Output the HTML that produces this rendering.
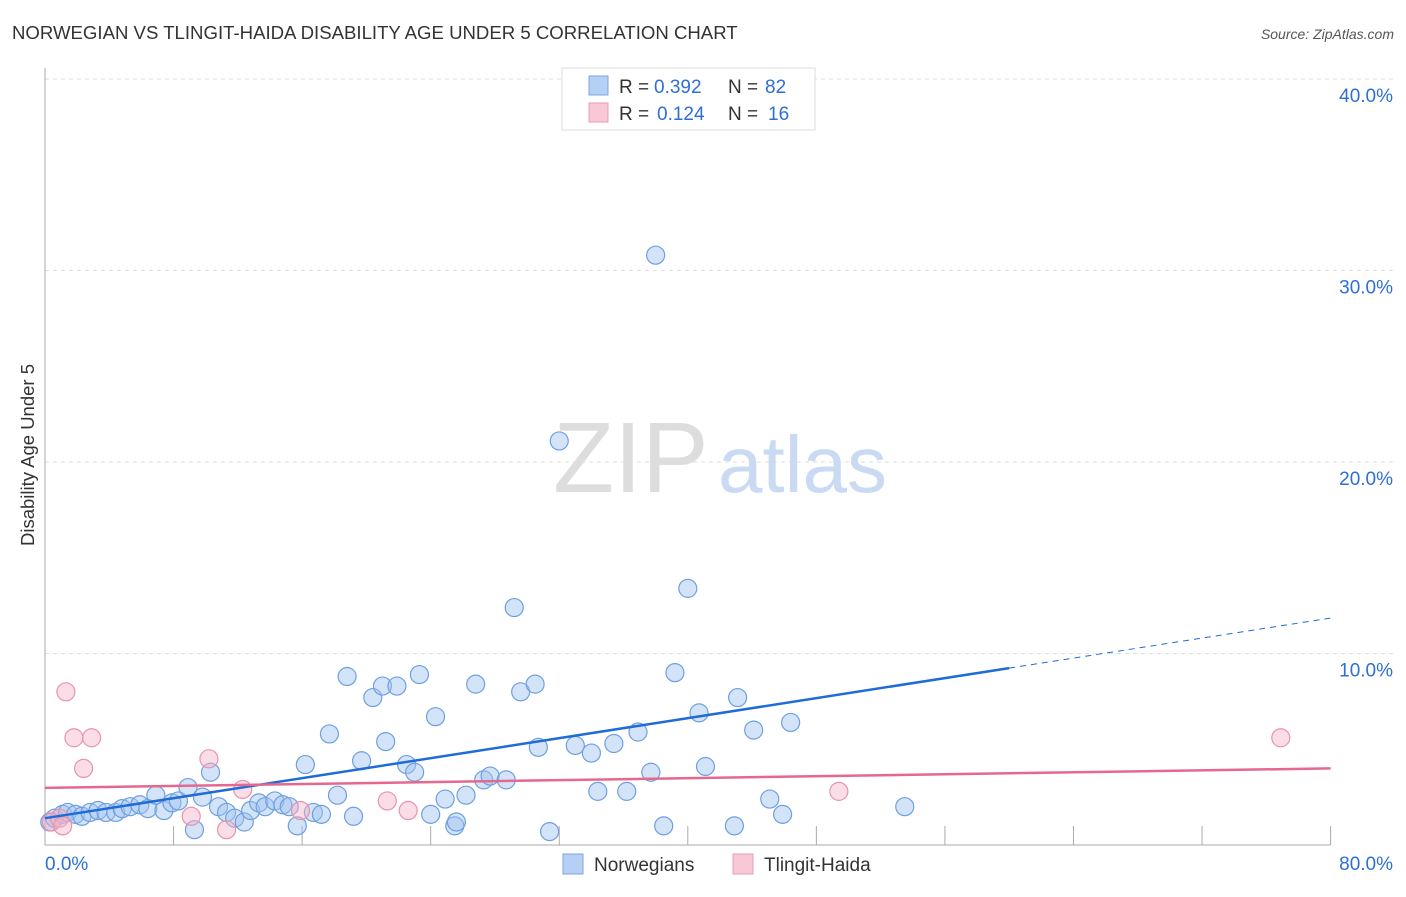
<!DOCTYPE html>
<html><head><meta charset="utf-8"><style>
body{margin:0;background:#fff;font-family:"Liberation Sans",sans-serif}
svg text{font-family:"Liberation Sans",sans-serif}
</style></head><body>
<svg id="chart" width="1406" height="892" viewBox="0 0 1406 892">
<text x="12" y="39" font-size="18.6" fill="#333">NORWEGIAN VS TLINGIT-HAIDA DISABILITY AGE UNDER 5 CORRELATION CHART</text>
<text x="1394" y="39" font-size="14" fill="#555" font-style="italic" text-anchor="end">Source: ZipAtlas.com</text>
<text x="34" y="455" font-size="18.5" fill="#333" transform="rotate(-90 34 455)" text-anchor="middle">Disability Age Under 5</text>
<g id="grid"></g>
<text x="553" y="492" font-size="100" fill="#ddd" font-family="Liberation Serif">ZIP</text>
<text x="718" y="492" font-size="80" fill="#c9daf2">atlas</text>
<g id="marks"></g>
<g>
<rect x="562" y="68" width="253" height="62" fill="#fff" stroke="#ddd"/>
<rect x="589" y="76" width="19" height="19" fill="#b6d0f5" stroke="#7aa5e3"/>
<rect x="589" y="103" width="19" height="19" fill="#f9c8d6" stroke="#ec9ab3"/>
<text x="619" y="93" font-size="19" fill="#333">R =</text>
<text x="654" y="93" font-size="19" fill="#2e6fd6">0.392</text>
<text x="728" y="93" font-size="19" fill="#333">N =</text>
<text x="765" y="93" font-size="19" fill="#2e6fd6">82</text>
<text x="619" y="120" font-size="19" fill="#333">R =</text>
<text x="657" y="120" font-size="19" fill="#2e6fd6">0.124</text>
<text x="728" y="120" font-size="19" fill="#333">N =</text>
<text x="768" y="120" font-size="19" fill="#2e6fd6">16</text>
</g>
<g>
<rect x="563" y="854" width="20" height="20" fill="#b6d0f5" stroke="#7aa5e3"/>
<text x="594" y="871" font-size="19" fill="#333">Norwegians</text>
<rect x="733" y="854" width="20" height="20" fill="#f9c8d6" stroke="#ec9ab3"/>
<text x="764" y="871" font-size="19" fill="#333">Tlingit-Haida</text>
</g>
</svg>
<script>
const blueX=[0.3,0.6,1.1,1.4,1.9,2.3,2.8,3.3,3.8,4.4,4.8,5.3,5.9,6.4,6.9,7.4,7.9,8.3,8.9,9.3,9.8,10.3,10.8,11.3,11.8,12.4,12.8,13.3,13.7,14.3,14.8,15.2,15.7,16.2,16.7,17.2,17.7,18.2,18.8,19.2,19.7,20.4,21.0,21.2,21.9,22.5,23.0,23.3,24.0,24.3,24.9,25.5,25.6,26.2,26.8,27.3,27.7,28.7,29.2,29.6,30.5,30.7,31.4,32.0,33.0,34.0,34.4,35.4,36.2,36.9,37.7,38.0,38.5,39.2,40.0,40.7,41.1,42.9,43.1,44.1,45.1,45.9,46.4,53.5];
const blueY=[1.2,1.4,1.6,1.7,1.6,1.5,1.7,1.8,1.7,1.7,1.9,2.0,2.1,1.9,2.6,1.8,2.2,2.3,3.0,0.8,2.5,3.8,2.0,1.7,1.4,1.2,1.8,2.2,2.0,2.3,2.1,2.0,1.0,4.2,1.7,1.6,5.8,2.6,8.8,1.5,4.4,7.7,8.3,5.4,8.3,4.2,3.8,8.9,1.6,6.7,2.4,1.0,1.2,2.6,8.4,3.4,3.6,3.4,12.4,8.0,8.4,5.1,0.7,21.1,5.2,4.8,2.8,5.3,2.8,5.9,3.8,30.8,1.0,9.0,13.4,6.9,4.1,1.0,7.7,6.0,2.4,1.6,6.4,2.0];
const pinkX=[0.4,0.9,1.3,1.8,2.4,2.9,9.1,10.2,11.3,12.3,15.9,21.3,22.6,49.4,76.9,1.1];
const pinkY=[1.2,1.4,8.0,5.6,4.0,5.6,1.5,4.5,0.8,2.9,1.8,2.3,1.8,2.8,5.6,1.0];
const blueTrend=[1.4,11.85];
const pinkTrend=[2.98,4.0];
const yTicks=[10,20,30,40];
const xTickLabels=["0.0%","80.0%"];
const NS="http://www.w3.org/2000/svg";
const sx=v=>45+v*16.07, sy=v=>845-v*19.15;
function el(t,a,p){const e=document.createElementNS(NS,t);for(const k in a)e.setAttribute(k,a[k]);p.appendChild(e);return e;}
const grid=document.getElementById('grid'), marks=document.getElementById('marks');
yTicks.forEach(t=>{
 const l=el('line',{x1:45,x2:1394,y1:sy(t),y2:sy(t),stroke:'#ddd','stroke-dasharray':'4,4'},grid);
 
 
 const tx=el('text',{x:1393,y:sy(t)+23,'font-size':19,fill:'#2e6fd6','text-anchor':'end'},grid);tx.textContent=t.toFixed(1)+'%';
 
 
});
el('line',{x1:45,x2:45,y1:68,y2:845,stroke:'#aaa'},grid);
el('line',{x1:45,x2:1330,y1:845,y2:845,stroke:'#aaa'},grid);
for(let i=1;i<=10;i++){el('line',{x1:sx(i*8),x2:sx(i*8),y1:826,y2:845,stroke:'#aaa'},grid);}
const xl=el('text',{x:45,y:870,'font-size':19,fill:'#2e6fd6'},grid);xl.textContent=xTickLabels[0];


const xr=el('text',{x:1393,y:870,'font-size':19,fill:'#2e6fd6','text-anchor':'end'},grid);xr.textContent=xTickLabels[1];


blueX.forEach((x,i)=>{const c=el('circle',{cx:sx(x),cy:sy(blueY[i]),r:9,fill:'rgba(160,196,240,0.45)',stroke:'#6f9fe0','stroke-width':1.2},marks);
 
 });
pinkX.forEach((x,i)=>{const c=el('circle',{cx:sx(x),cy:sy(pinkY[i]),r:9,fill:'rgba(245,180,200,0.45)',stroke:'#e993ae','stroke-width':1.2},marks);
 
 });
const by=x=>blueTrend[0]+(blueTrend[1]-blueTrend[0])*x/80;
const bl=el('line',{x1:sx(0),y1:sy(by(0)),x2:sx(60),y2:sy(by(60)),stroke:'#1f6bd8','stroke-width':2.5},marks);


const bd=el('line',{x1:sx(60),y1:sy(by(60)),x2:sx(80),y2:sy(by(80)),stroke:'#1f6bd8','stroke-width':1,'stroke-dasharray':'6,5'},marks);


const pl=el('line',{x1:sx(0),y1:sy(pinkTrend[0]),x2:sx(80),y2:sy(pinkTrend[1]),stroke:'#e5688f','stroke-width':2.5},marks);


</script>
</body></html>
